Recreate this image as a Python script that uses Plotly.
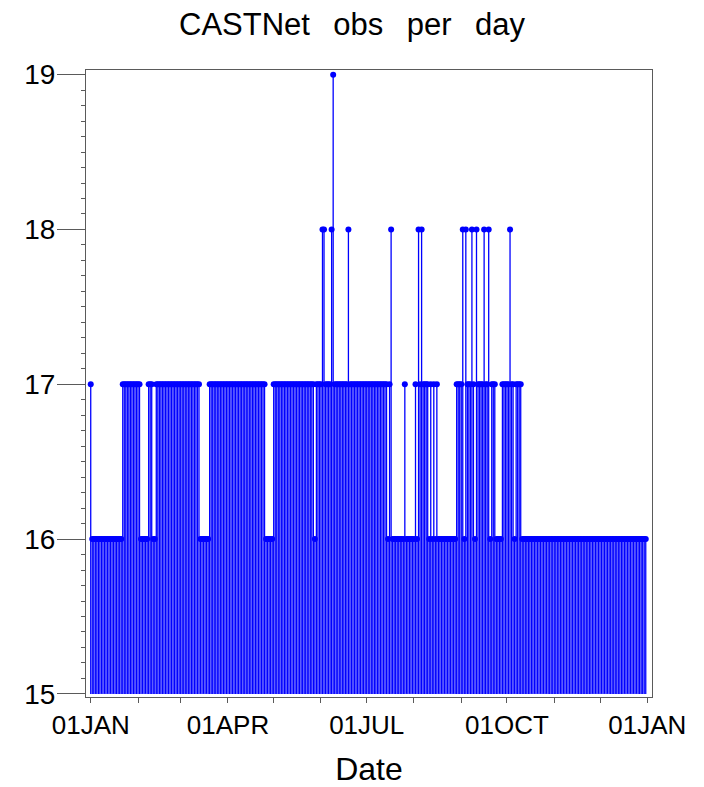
import plotly.graph_objects as go
import pandas as pd

# Observations per day (one list per month, non-leap year)
jan = [17, 16, 16, 16, 16, 16, 16, 16, 16, 16, 16, 16, 16, 16, 16, 16, 16, 16, 16, 16,
       16, 17, 17, 17, 17, 17, 17, 17, 17, 17, 17]
feb = [17, 17, 16, 16, 16, 16, 16, 17, 17, 17, 16, 16, 17, 17, 17, 17, 17, 17, 17, 17,
       17, 17, 17, 17, 17, 17, 17, 17]
mar = [17, 17, 17, 17, 17, 17, 17, 17, 17, 17, 17, 17, 17, 16, 16, 16, 16, 16, 16, 17,
       17, 17, 17, 17, 17, 17, 17, 17, 17, 17, 17]
apr = [17, 17, 17, 17, 17, 17, 17, 17, 17, 17, 17, 17, 17, 17, 17, 17, 17, 17, 17, 17,
       17, 17, 17, 17, 17, 16, 16, 16, 16, 16]
may = [17, 17, 17, 17, 17, 17, 17, 17, 17, 17, 17, 17, 17, 17, 17, 17, 17, 17, 17, 17,
       17, 17, 17, 17, 17, 17, 17, 16, 17, 17, 17]
jun = [17, 18, 18, 17, 17, 17, 17, 18, 19, 17, 17, 17, 17, 17, 17, 17, 17, 17, 18, 17,
       17, 17, 17, 17, 17, 17, 17, 17, 17, 17]
jul = [17, 17, 17, 17, 17, 17, 17, 17, 17, 17, 17, 17, 17, 17, 16, 17, 18, 16, 16, 16,
       16, 16, 16, 16, 16, 17, 16, 16, 16, 16, 16]
aug = [16, 17, 16, 18, 17, 18, 17, 17, 17, 17, 16, 17, 16, 17, 16, 17, 16, 16, 16, 16,
       16, 16, 16, 16, 16, 16, 16, 16, 17, 17, 17]
sep = [17, 18, 16, 18, 17, 17, 17, 18, 17, 16, 18, 17, 17, 17, 17, 18, 17, 17, 18, 16,
       17, 17, 17, 16, 16, 16, 16, 17, 17, 17]
oct_ = [17, 17, 18, 17, 17, 16, 17, 17, 17, 17, 16, 16, 16, 16, 16, 16, 16, 16, 16, 16,
        16, 16, 16, 16, 16, 16, 16, 16, 16, 16, 16]
nov = [16, 16, 16, 16, 16, 16, 16, 16, 16, 16, 16, 16, 16, 16, 16, 16, 16, 16, 16, 16,
       16, 16, 16, 16, 16, 16, 16, 16, 16, 16]
dec = [16, 16, 16, 16, 16, 16, 16, 16, 16, 16, 16, 16, 16, 16, 16, 16, 16, 16, 16, 16,
       16, 16, 16, 16, 16, 16, 16, 16, 16, 16, 16]

year_start = "2005-01-01"
tick_dates = ["2005-01-01", "2005-04-01", "2005-07-01", "2005-10-01", "2006-01-01"]
tick_labels = ["01JAN", "01APR", "01JUL", "01OCT", "01JAN"]
y_ticks = [15, 16, 17, 18, 19]
baseline = 15

values = jan + feb + mar + apr + may + jun + jul + aug + sep + oct_ + nov + dec
dates = pd.date_range(year_start, periods=len(values), freq="D")

nx, ny = [], []
for d, v in zip(dates, values):
    nx += [d, d, None]
    ny += [baseline, v, None]

BLUE = "#0000FF"
fig = go.Figure()
fig.add_trace(go.Scatter(x=nx, y=ny, mode="lines",
                         line=dict(color=BLUE, width=1.3), hoverinfo="skip"))
fig.add_trace(go.Scatter(x=dates, y=values, mode="markers",
                         marker=dict(color=BLUE, size=6, line=dict(width=0))))

FONT = "Liberation Sans, Arial, sans-serif"
LINE = "#5a5a5a"
sp = "\u00a0\u00a0\u2009"
fig.update_layout(
    width=704, height=787,
    margin=dict(l=86, r=52, t=70, b=90, autoexpand=False),
    paper_bgcolor="white", plot_bgcolor="white",
    showlegend=False,
    font=dict(family=FONT, color="black"),
    title=dict(text=f"CASTNet{sp}obs{sp}per{sp}day", x=0.5, xanchor="center",
               y=1 - 24 / 787, yanchor="middle",
               font=dict(size=31, family=FONT, color="black")),
    xaxis=dict(
        type="date", automargin=False,
        range=["2004-12-28 21:36", "2006-01-04 02:24"],
        tickmode="array", tickvals=tick_dates, ticktext=tick_labels,
        ticks="outside", ticklen=5, tickcolor=LINE, tickwidth=1,
        minor=dict(dtick="M1", tick0=year_start, ticks="outside", ticklen=5,
                   tickcolor=LINE, showgrid=False),
        showgrid=False, zeroline=False,
        showline=True, linecolor=LINE, linewidth=1, mirror=True,
        tickfont=dict(size=26, family=FONT, color="black"),
        title=dict(text="Date", font=dict(size=32, family=FONT, color="black"),
                   standoff=18),
    ),
    yaxis=dict(
        automargin=False,
        range=[14.98, 19.03],
        tickmode="array", tickvals=y_ticks,
        ticks="outside", ticklen=28, tickcolor=LINE, tickwidth=1,
        ticklabelstandoff=-4,
        minor=dict(dtick=0.1, tick0=15, ticks="outside", ticklen=4,
                   tickcolor=LINE, showgrid=False),
        showgrid=False, zeroline=False,
        showline=True, linecolor=LINE, linewidth=1, mirror=True,
        tickfont=dict(size=28, family=FONT, color="black"),
    ),
)

fig.write_html("out.html", config={"displayModeBar": False},
               post_script="document.body.style.margin='0px';")
